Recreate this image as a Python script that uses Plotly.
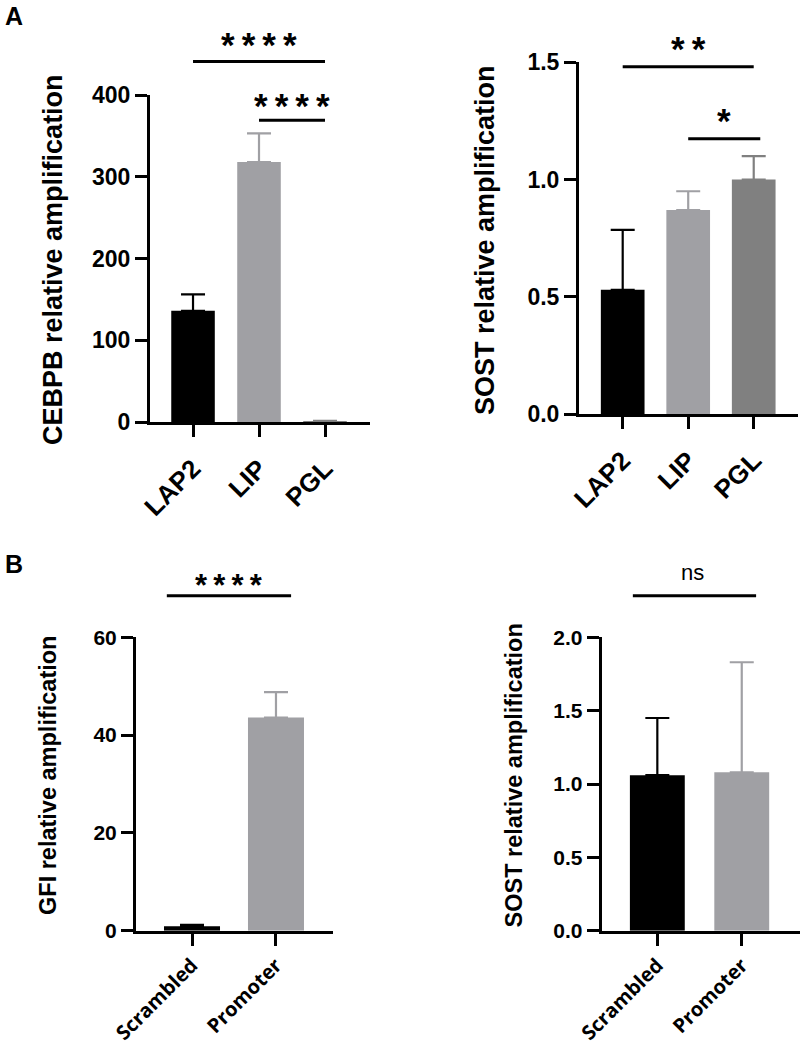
import plotly.graph_objects as go

# ---------------- data ----------------
# Panel A (left): CEBPB
a1_cats = ["LAP2", "LIP", "PGL"]
a1_means = [136, 318, 1.0]
a1_errs = [20, 35, 0.4]
a1_colors = ["#000000", "#a0a0a4", "#808080"]

# Panel A (right): SOST
a2_cats = ["LAP2", "LIP", "PGL"]
a2_means = [0.53, 0.87, 1.0]
a2_errs = [0.255, 0.08, 0.10]
a2_colors = ["#000000", "#a0a0a4", "#808080"]

# Panel B (left): GFI
b1_cats = ["Scrambled", "Promoter"]
b1_means = [0.9, 43.6]
b1_errs = [0.3, 5.2]
b1_colors = ["#000000", "#a0a0a4"]

# Panel B (right): SOST
b2_cats = ["Scrambled", "Promoter"]
b2_means = [1.06, 1.08]
b2_errs = [0.39, 0.75]
b2_colors = ["#000000", "#a0a0a4"]

# significance brackets: (x0, x1, y_line, y_text, x_text, label) in data units
a1_sig = [(0, 2, 441, 471, 1.0, "*\u2009*\u2009*\u2009*"),
          (1, 2, 369, 397, 1.5, "*\u2009*\u2009*\u2009*")]
a2_sig = [(0, 2, 1.481, 1.592, 1.0, "*\u2009*"),
          (1, 2.1, 1.174, 1.284, 1.55, "*")]
b1_sig = [(-0.3, 1.18, 68.5, 72.2, 0.44, "*\u2009*\u2009*\u2009*")]
b2_sig = [(-0.29, 1.17, 2.283, 2.426, 0.42, "ns")]

W, H = 800, 1045
BOLD = "Liberation Sans"

panels = [
    dict(cats=a1_cats, means=a1_means, errs=a1_errs, colors=a1_colors, sig=a1_sig,
         xdom=[150 / W, 370 / W], xr=[-0.652, 2.682],
         ydom=[1 - 422 / H, 1 - 95 / H], yr=[0, 400], dtick=100, tickformat="d",
         title="CEBPB relative amplification", tx=53, ty=260, tsize=27,
         tickfs=23, xfont=("Liberation Sans", 26), xstand=6, bw=0.66, sigfs=35),
    dict(cats=a2_cats, means=a2_means, errs=a2_errs, colors=a2_colors, sig=a2_sig,
         xdom=[579 / W, 798 / W], xr=[-0.667, 2.676],
         ydom=[1 - 414 / H, 1 - 62.3 / H], yr=[0, 1.5], dtick=0.5, tickformat=".1f",
         title="SOST relative amplification", tx=485, ty=240, tsize=27,
         tickfs=23, xfont=("Liberation Sans", 26), xstand=6, bw=0.667, sigfs=35),
    dict(cats=b1_cats, means=b1_means, errs=b1_errs, colors=b1_colors, sig=b1_sig,
         xdom=[136 / W, 333 / W], xr=[-0.667, 1.679],
         ydom=[1 - 930.7 / H, 1 - 637.3 / H], yr=[0, 60], dtick=20, tickformat="d",
         title="GFI relative amplification", tx=48, ty=776, tsize=23.5,
         tickfs=21, xfont=("Open Sans", 20), xstand=0, bw=0.667, sigfs=31),
    dict(cats=b2_cats, means=b2_means, errs=b2_errs, colors=b2_colors, sig=b2_sig,
         xdom=[601.7 / W, 1.0], xr=[-0.659, 1.69],
         ydom=[1 - 930.7 / H, 1 - 637.3 / H], yr=[0, 2.0], dtick=0.5, tickformat=".1f",
         title="SOST relative amplification", tx=513, ty=775.5, tsize=23.5,
         tickfs=21, xfont=("Open Sans", 20), xstand=0, bw=0.65, sigfs=31),
]


def to_px(dom, rng, v):
    return dom[0] + (v - rng[0]) / (rng[1] - rng[0]) * (dom[1] - dom[0])


fig = go.Figure()
shapes = []
annotations = []
layout_axes = {}

for i, p in enumerate(panels, start=1):
    sfx = "" if i == 1 else str(i)
    xa, ya = "x" + sfx, "y" + sfx
    for cat, m, e, c in zip(p["cats"], p["means"], p["errs"], p["colors"]):
        fig.add_trace(go.Bar(
            x=[cat], y=[m], width=p["bw"], xaxis=xa, yaxis=ya,
            marker=dict(color=c, line=dict(width=0)),
            error_y=dict(type="data", array=[e], arrayminus=[0], symmetric=False,
                         color=c, thickness=2.2, width=12),
            showlegend=False,
        ))
    layout_axes["xaxis" + sfx] = dict(
        domain=p["xdom"], range=p["xr"], anchor=ya, type="category",
        categoryorder="array", categoryarray=p["cats"], automargin=False,
        showline=True, linewidth=3, linecolor="black", ticks="outside",
        ticklen=12, tickwidth=3, tickcolor="black", tickangle=-45,
        ticklabelstandoff=p["xstand"],
        tickfont=dict(family=p["xfont"][0], size=p["xfont"][1], color="black", weight="bold"),
        showgrid=False, zeroline=False, fixedrange=True,
    )
    layout_axes["yaxis" + sfx] = dict(
        domain=p["ydom"], range=p["yr"], anchor=xa, dtick=p["dtick"], tick0=0,
        tickformat=p["tickformat"], automargin=False,
        showline=True, linewidth=3, linecolor="black", ticks="outside",
        ticklen=12, tickwidth=3, tickcolor="black",
        tickfont=dict(family=BOLD, size=p["tickfs"], color="black", weight="bold"),
        showgrid=False, zeroline=False, fixedrange=True,
    )
    # y title
    annotations.append(dict(
        text=p["title"], x=p["tx"] / W, y=1 - p["ty"] / H, xref="paper", yref="paper",
        textangle=-90, showarrow=False, xanchor="center", yanchor="middle",
        font=dict(family=BOLD, size=p["tsize"], color="black", weight="bold"),
    ))
    # significance
    for x0, x1, yl, yt, xt, lab in p["sig"]:
        shapes.append(dict(
            type="line", xref="paper", yref="paper",
            x0=to_px(p["xdom"], p["xr"], x0), x1=to_px(p["xdom"], p["xr"], x1),
            y0=to_px(p["ydom"], p["yr"], yl), y1=to_px(p["ydom"], p["yr"], yl),
            line=dict(color="black", width=3),
        ))
        is_ns = lab == "ns"
        annotations.append(dict(
            text=lab, xref="paper", yref="paper",
            x=to_px(p["xdom"], p["xr"], xt), y=to_px(p["ydom"], p["yr"], yt),
            xanchor="center", yanchor="middle", showarrow=False,
            yshift=2 if is_ns else -8,
            font=dict(family=BOLD, size=22 if is_ns else p["sigfs"], color="black",
                      weight="normal" if is_ns else "bold"),
        ))

# panel letters
for letter, lx, ly in [("A", 3, 0), ("B", 3, 548)]:
    annotations.append(dict(
        text=letter, x=lx / W, y=1 - ly / H, xref="paper", yref="paper",
        xanchor="left", yanchor="top", showarrow=False,
        font=dict(family="Liberation Sans", size=25, color="black", weight="bold"),
    ))

fig.update_layout(
    template="none",
    width=W, height=H, margin=dict(l=0, r=0, t=0, b=0, pad=0),
    paper_bgcolor="white", plot_bgcolor="white", barmode="overlay",
    shapes=shapes, annotations=annotations, showlegend=False,
    **layout_axes,
)

fig.write_html("out.html")
